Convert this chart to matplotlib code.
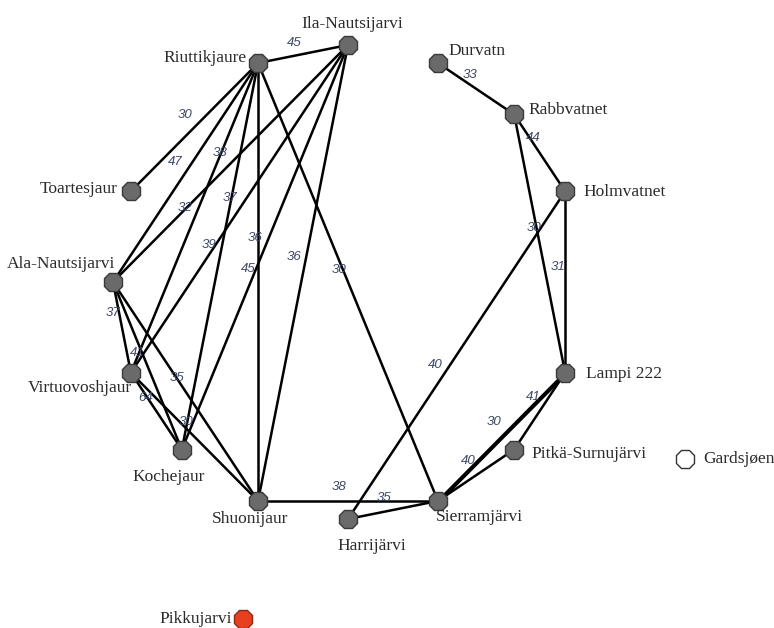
import numpy as np
import matplotlib
matplotlib.use("Agg")
import matplotlib.pyplot as plt

# lakes placed on a 16-slot circle (slot * 22.5 deg, counter-clockwise from east)
lakes = ['Ila-Nautsijarvi', 'Riuttikjaure', 'Toartesjaur', 'Ala-Nautsijarvi',
         'Virtuovoshjaur', 'Kochejaur', 'Shuonijaur', 'Harrijärvi',
         'Sierramjärvi', 'Pitkä-Surnujärvi', 'Lampi 222', 'Holmvatnet',
         'Rabbvatnet', 'Durvatn']
slots = [4, 5, 7, 8, 9, 10, 11, 12, 13, 14, 15, 1, 2, 3]

# lakes without links, drawn outside the circle
lone_lakes = ['Gardsjøen', 'Pikkujarvi']
lone_xy = [(685, 459), (243, 619)]

# links and their weights
src = ['Riuttikjaure', 'Riuttikjaure', 'Riuttikjaure', 'Riuttikjaure',
       'Riuttikjaure', 'Riuttikjaure', 'Riuttikjaure',
       'Ila-Nautsijarvi', 'Ila-Nautsijarvi', 'Ila-Nautsijarvi', 'Ila-Nautsijarvi',
       'Ala-Nautsijarvi', 'Ala-Nautsijarvi', 'Ala-Nautsijarvi',
       'Virtuovoshjaur', 'Virtuovoshjaur', 'Shuonijaur', 'Harrijärvi',
       'Harrijärvi', 'Sierramjärvi', 'Sierramjärvi', 'Sierramjärvi',
       'Pitkä-Surnujärvi', 'Holmvatnet', 'Rabbvatnet', 'Rabbvatnet', 'Durvatn']
dst = ['Ila-Nautsijarvi', 'Toartesjaur', 'Ala-Nautsijarvi', 'Virtuovoshjaur',
       'Kochejaur', 'Shuonijaur', 'Sierramjärvi',
       'Ala-Nautsijarvi', 'Virtuovoshjaur', 'Kochejaur', 'Shuonijaur',
       'Virtuovoshjaur', 'Kochejaur', 'Shuonijaur',
       'Kochejaur', 'Shuonijaur', 'Sierramjärvi', 'Sierramjärvi',
       'Holmvatnet', 'Lampi 222', 'Lampi 222', 'Pitkä-Surnujärvi',
       'Lampi 222', 'Lampi 222', 'Lampi 222', 'Holmvatnet', 'Rabbvatnet']
weights = [45, 30, 47, 38, 37, 36, 30,
           32, 39, 45, 36,
           37, 41, 35,
           64, 30, 38, 35,
           40, 30, 41, 40,
           None, 31, 30, 44, 33]

# where each weight label sits: fraction along the link, then a nudge
label_t = [0.43, 0.49, 0.49, 0.29, 0.35, 0.40, 0.47,
           0.69, 0.62, 0.56, 0.47,
           0.33, 0.41, 0.44,
           0.31, 0.41, 0.45, 0.43,
           0.45, 0.53, 0.78, 0.52,
           0.5, 0.42, 0.44, 0.33, 0.36]
label_nudge = [(-2, -12), (-11, -11), (-12, -8), (-1, 0), (-1, 0), (-3, 0), (-4, 1),
               (-1, -1), (-4, -3), (-7, -3), (-12, -2),
               (-6, 1), (-4, 2), (0, 0),
               (-1, 1), (3, -3), (0, -14), (-3, -13),
               (-10, -7), (-11, -11), (-4, -4), (-9, -13),
               (0, 0), (-7, 0), (-3, 0), (2, -2), (5, -7)]

# name label placement (dx, dy, ha) relative to the node
name_place = {
    'Ila-Nautsijarvi': (4, -21, 'center'),
    'Riuttikjaure': (-11, -5, 'right'),
    'Toartesjaur': (-13, -2, 'right'),
    'Ala-Nautsijarvi': (2, -18, 'right'),
    'Virtuovoshjaur': (1, 15, 'right'),
    'Kochejaur': (-13, 27, 'center'),
    'Shuonijaur': (-8, 18, 'center'),
    'Harrijärvi': (24, 27, 'center'),
    'Sierramjärvi': (42, 16, 'center'),
    'Pitkä-Surnujärvi': (17, 4, 'left'),
    'Lampi 222': (21, 1, 'left'),
    'Holmvatnet': (18, 1, 'left'),
    'Rabbvatnet': (14, -4, 'left'),
    'Durvatn': (11, -12, 'left'),
    'Gardsjøen': (18, 0, 'left'),
    'Pikkujarvi': (-11, 0, 'right'),
}

cx, cy, rx, ry = 348, 282, 235, 237
ang = np.radians(np.array(slots) * 22.5)
pos = {n: (cx + rx * np.cos(a), cy - ry * np.sin(a)) for n, a in zip(lakes, ang)}
for n, xy in zip(lone_lakes, lone_xy):
    pos[n] = xy

fig = plt.figure(figsize=(7.74, 6.28), dpi=100)
ax = fig.add_axes([0, 0, 1, 1])
ax.set_xlim(0, 774)
ax.set_ylim(628, 0)
ax.axis('off')

seen = {}
for i, (a, b, w) in enumerate(zip(src, dst, weights)):
    x0, y0 = pos[a]
    x1, y1 = pos[b]
    k = seen.get((a, b), 0)
    seen[(a, b)] = k + 1
    # parallel links get a small sideways shift
    d = np.array([x1 - x0, y1 - y0])
    nrm = np.array([-d[1], d[0]]) / np.hypot(*d) * 1.6 * k
    ax.plot([x0 + nrm[0], x1 + nrm[0]], [y0 + nrm[1], y1 + nrm[1]],
            '-', color='black', lw=1.8, zorder=1)
    if w is None:
        continue
    t = label_t[i]
    dx, dy = label_nudge[i]
    ax.text(x0 + t * (x1 - x0) + dx, y0 + t * (y1 - y0) + dy, str(w),
            fontsize=9.5, style='italic', family='Liberation Sans',
            color='#3d4766', ha='center', va='center', zorder=2)

for n in lakes:
    x, y = pos[n]
    ax.plot(x, y, '8', ms=13.5, mfc='#6a6a6a', mec='#3a3a3a', mew=1, zorder=3)
face = {'Gardsjøen': 'white', 'Pikkujarvi': '#e8401f'}
edge = {'Gardsjøen': '#333333', 'Pikkujarvi': '#8a2a14'}
for n in lone_lakes:
    x, y = pos[n]
    ax.plot(x, y, '8', ms=13.5, mfc=face[n], mec=edge[n], mew=1, zorder=3)

for n in lakes + lone_lakes:
    x, y = pos[n]
    dx, dy, ha = name_place[n]
    ax.text(x + dx, y + dy, n, fontsize=12.5, family='Liberation Serif',
            color='#2b2b2b', ha=ha, va='center', zorder=4)

fig.savefig('out.png', dpi=100, facecolor='white')
